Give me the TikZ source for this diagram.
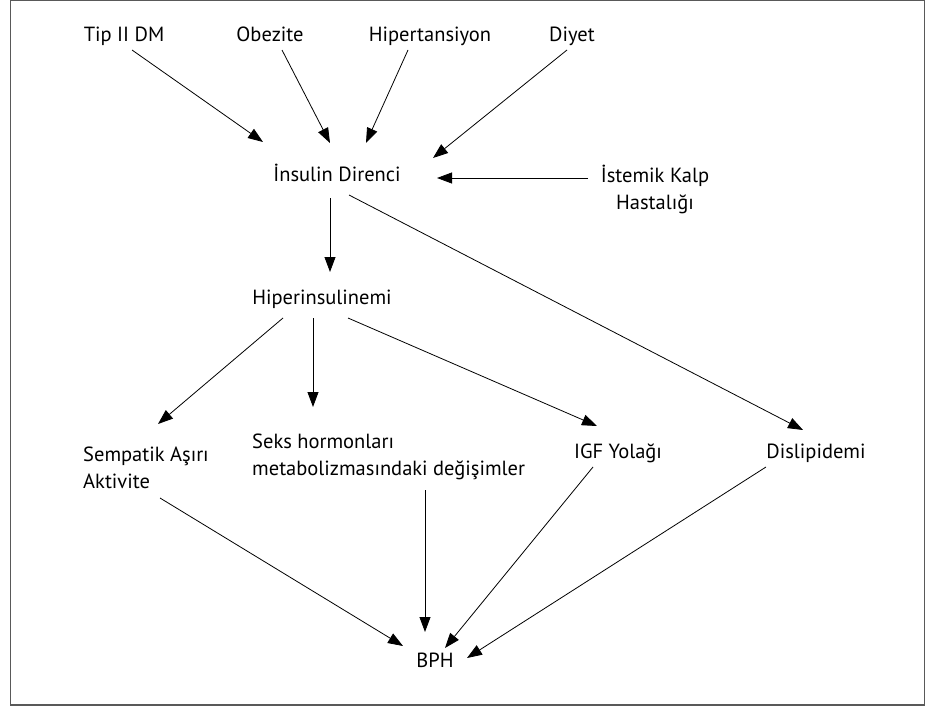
\documentclass[tikz,border=0pt]{standalone}
\usepackage{fontspec}
\setmainfont{PT Sans}
\usetikzlibrary{arrows.meta,calc}
\begin{document}
\begin{tikzpicture}[x=1pt,y=-1pt,
  lbl/.style={inner sep=0pt,font=\fontsize{20.5}{27}\selectfont},
  one/.style={lbl,text height=15pt,text depth=5pt},
  arr/.style={line width=0.8pt,-{Triangle[length=15pt,width=11pt]}}]
\useasboundingbox (0,0) rectangle (932,706);
\draw[line width=1.5pt,black!65] (10.5,0.75) rectangle (924.5,705);
% nodes
\node[one] (tip) at (124,37) {Tip II DM};
\node[one] (obe) at (270,37) {Obezite};
\node[one] (hip) at (430,37) {Hipertansiyon};
\node[one] (diy) at (572,37) {Diyet};
\node[one] (ins) at (337,177) {İnsulin Direnci};
\node[lbl,align=center] (ist) at (655,189) {İstemik Kalp\\Hastalığı};
\node[one] (hyp) at (322,299) {Hiperinsulinemi};
\node[lbl,align=left,anchor=west] (sem) at (83,468) {Sempatik Aşırı\\Aktivite};
\node[lbl,align=left,anchor=west] (seks) at (252,457) {Seks hormonları\\metabolizmasındaki değişimler};
\node[one] (igf) at (618,453) {IGF Yolağı};
\node[one] (dis) at (816,453) {Dislipidemi};
\node[one] (bph) at (435,662) {BPH};
% connectors
\draw[arr] ($(tip)+(8,13)$) -- ($(ins)+(-74,-35)$);
\draw[arr] ($(obe)+(12,13)$) -- ($(ins)+(-7,-34)$);
\draw[arr] ($(hip)+(-22,13)$) -- ($(ins)+(29,-34)$);
\draw[arr] ($(diy)+(-5,13)$) -- ($(ins)+(96,-19)$);
\draw[arr] ($(ist)+(-67,-11)$) -- ($(ins)+(100,1)$);
\draw[arr] ($(ins)+(-7,21)$) -- ($(hyp)+(8,-27)$);
\draw[arr] ($(ins)+(12,18)$) -- ($(dis)+(-13,-23)$);
\draw[arr] ($(hyp)+(-39,19)$) -- ($(sem.west)+(75,-44)$);
\draw[arr] ($(hyp)+(-9,19)$) -- ($(seks.west)+(61,-50)$);
\draw[arr] ($(hyp)+(26,19)$) -- ($(igf)+(-21,-27)$);
\draw[arr] ($(sem.west)+(77,30)$) -- ($(bph)+(-32,-16)$);
\draw[arr] ($(seks.west)+(173,33)$) -- ($(bph)+(-10,-30)$);
\draw[arr] ($(igf)+(-25,14)$) -- ($(bph)+(10,-14)$);
\draw[arr] ($(dis)+(-50,14)$) -- ($(bph)+(32,-4)$);
\end{tikzpicture}
\end{document}
